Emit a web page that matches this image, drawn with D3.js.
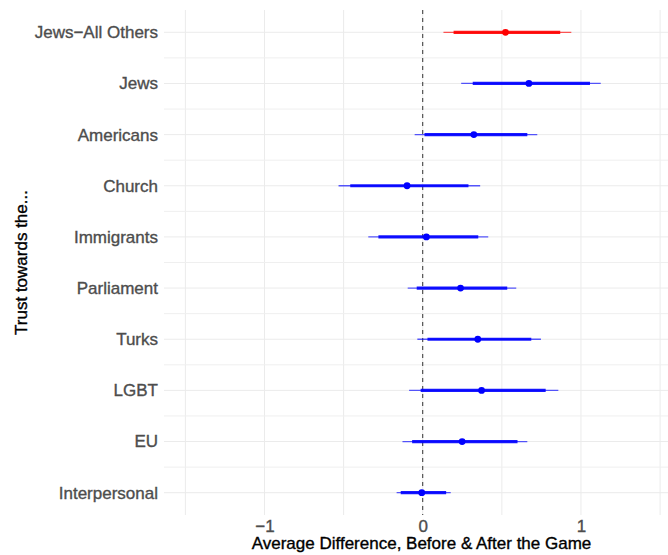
<!DOCTYPE html>
<html>
<head>
<meta charset="utf-8">
<script src="https://cdn.jsdelivr.net/npm/d3@7"></script>
<style>
  body { margin: 0; background: #fff; }
  text { font-family: "Liberation Sans", Arial, sans-serif; }
</style>
</head>
<body>
<div id="chart"></div>
<script>
// groups, top to bottom
var groups = ["Jews\u2212All Others", "Jews", "Americans", "Church", "Immigrants",
              "Parliament", "Turks", "LGBT", "EU", "Interpersonal"]
var estimate = [0.523, 0.671, 0.323, -0.099, 0.023, 0.239, 0.348, 0.372, 0.249, -0.006]
var lo90 = [0.195, 0.316, 0.011, -0.458, -0.280, -0.038, 0.030, -0.013, -0.067, -0.139]
var hi90 = [0.869, 1.057, 0.661, 0.289, 0.351, 0.534, 0.686, 0.777, 0.599, 0.148]
var lo95 = [0.131, 0.243, -0.051, -0.532, -0.344, -0.095, -0.034, -0.086, -0.128, -0.165]
var hi95 = [0.939, 1.125, 0.724, 0.363, 0.414, 0.591, 0.747, 0.857, 0.661, 0.177]
var xTicks = [-1, 0, 1]
var xGrid = [-1.5, -1, -0.5, 0, 0.5, 1, 1.5]

var rows = groups.map(function (g, i) {
    return { name: g, est: estimate[i], lo90: lo90[i], hi90: hi90[i], lo95: lo95[i], hi95: hi95[i],
             col: i == 0 ? "#ff0000" : "#0000ff" }
})

var W = 668, H = 555,
    pLeft = 164, pRight = 668, pTop = 10, pBottom = 515

var svg = d3.select("#chart")
    .append("svg")
    .attr("width", W)
    .attr("height", H)

var x = d3.scaleLinear()
    .domain([-1.635, 1.55])
    .range([pLeft, pRight])

var y = d3.scalePoint()
    .domain(groups)
    .range([32.3, 492.7])

var step = y.step()

// grid
svg.append("g").selectAll("line")
    .data(xGrid)
    .join("line")
    .attr("x1", d => x(d)).attr("x2", d => x(d))
    .attr("y1", pTop).attr("y2", pBottom)
    .attr("stroke", "#ebebeb")
    .attr("stroke-width", 1)

// minor horizontal lines between rows
svg.append("g").selectAll("line")
    .data(groups.slice(1))
    .join("line")
    .attr("x1", pLeft).attr("x2", pRight)
    .attr("y1", d => y(d) - step / 2).attr("y2", d => y(d) - step / 2)
    .attr("stroke", "#efefef")
    .attr("stroke-width", 1)

svg.append("g").selectAll("line")
    .data(groups)
    .join("line")
    .attr("x1", pLeft).attr("x2", pRight)
    .attr("y1", d => y(d)).attr("y2", d => y(d))
    .attr("stroke", "#ebebeb")
    .attr("stroke-width", 1)

// zero line
svg.append("line")
    .attr("x1", x(0)).attr("x2", x(0))
    .attr("y1", pTop).attr("y2", pBottom)
    .attr("stroke", "#333")
    .attr("stroke-width", 1)
    .attr("stroke-dasharray", "4,4")

// intervals
var g = svg.append("g")

g.selectAll(".ci95")
    .data(rows)
    .join("line")
    .attr("class", "ci95")
    .attr("x1", d => x(d.lo95)).attr("x2", d => x(d.hi95))
    .attr("y1", d => y(d.name)).attr("y2", d => y(d.name))
    .attr("stroke", d => d.col)
    .attr("stroke-opacity", 0.65)
    .attr("stroke-width", 1.3)

g.selectAll(".ci90")
    .data(rows)
    .join("line")
    .attr("class", "ci90")
    .attr("x1", d => x(d.lo90)).attr("x2", d => x(d.hi90))
    .attr("y1", d => y(d.name)).attr("y2", d => y(d.name))
    .attr("stroke", d => d.col)
    .attr("stroke-opacity", 0.9)
    .attr("stroke-width", 3.2)

g.selectAll("circle")
    .data(rows)
    .join("circle")
    .attr("cx", d => x(d.est))
    .attr("cy", d => y(d.name))
    .attr("r", 3.4)
    .attr("fill", d => d.col)

// x axis
var xAxis = svg.append("g")
    .attr("transform", "translate(0," + pBottom + ")")
    .call(d3.axisBottom(x).tickValues(xTicks).tickSize(0).tickPadding(4.5)
        .tickFormat(d => d < 0 ? "\u2212" + Math.abs(d) : d))
xAxis.select(".domain").remove()
xAxis.selectAll("text")
    .attr("fill", "#4d4d4d")
    .attr("stroke", "#4d4d4d")
    .attr("stroke-width", 0.35)
    .style("font-size", "17px")

// y axis
var yAxis = svg.append("g")
    .attr("transform", "translate(" + pLeft + ",0)")
    .call(d3.axisLeft(y).tickSize(0).tickPadding(6))
yAxis.select(".domain").remove()
yAxis.selectAll("text")
    .attr("fill", "#4d4d4d")
    .attr("stroke", "#4d4d4d")
    .attr("stroke-width", 0.35)
    .style("font-size", "17px")

// titles
svg.append("text")
    .text("Average Difference, Before & After the Game")
    .attr("x", 421.5)
    .attr("y", 549)
    .attr("text-anchor", "middle")
    .style("font-size", "17px")
    .attr("fill", "#000")
    .attr("stroke", "#000")
    .attr("stroke-width", 0.35)

svg.append("text")
    .text("Trust towards the...")
    .attr("transform", "translate(27," + (pTop + pBottom) / 2 + ") rotate(-90)")
    .attr("text-anchor", "middle")
    .style("font-size", "17px")
    .attr("fill", "#000")
    .attr("stroke", "#000")
    .attr("stroke-width", 0.35)
</script>
</body>
</html>
